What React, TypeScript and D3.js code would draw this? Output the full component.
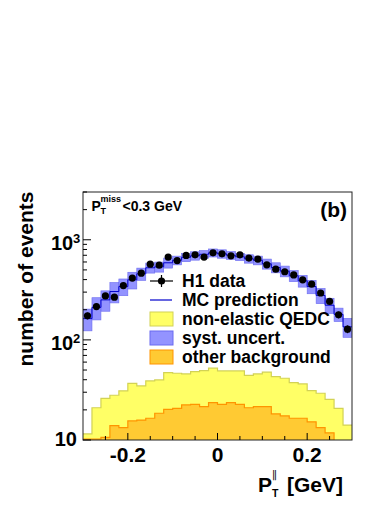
import React from "react";
import * as d3 from "d3";

const width = 392;
const height = 508;
const frame = { left: 83, right: 352, top: 192, bottom: 440 };

// P_T^parallel bins (GeV), 0.02 wide
const binCenters = [
  -0.29, -0.27, -0.25, -0.23, -0.21, -0.19, -0.17, -0.15, -0.13, -0.11,
  -0.09, -0.07, -0.05, -0.03, -0.01, 0.01, 0.03, 0.05, 0.07, 0.09,
  0.11, 0.13, 0.15, 0.17, 0.19, 0.21, 0.23, 0.25, 0.27, 0.29,
];
const binWidth = 0.02;

const h1Data = [
  174, 215, 275, 267, 349, 414, 464, 571, 558, 671,
  620, 697, 708, 671, 740, 724, 692, 708, 656, 641,
  562, 509, 479, 445, 398, 360, 294, 242, 178, 128,
];
const mcPrediction = [
  163, 211, 251, 304, 341, 398, 457, 525, 537, 589,
  624, 668, 692, 716, 741, 724, 700, 676, 646, 624,
  575, 528, 486, 437, 389, 341, 278, 222, 180, 135,
];
// relative systematic uncertainty of the MC
const systUncert = [
  0.245, 0.25, 0.23, 0.23, 0.19, 0.19, 0.14, 0.115, 0.115, 0.115,
  0.1, 0.096, 0.096, 0.089, 0.092, 0.096, 0.089, 0.084, 0.096, 0.1,
  0.115, 0.115, 0.123, 0.127, 0.135, 0.153, 0.173, 0.173, 0.153, 0.215,
];
const nonElasticQEDC = [
  11.5, 21, 26, 28, 31, 36.8, 34.7, 38.9, 39.8, 47,
  46.4, 45.7, 48.2, 49.4, 52.2, 49, 49, 49, 44.3, 45.7,
  47.6, 43, 41.4, 37.4, 36.3, 31.1, 29.3, 25.5, 20.7, 14.1,
];
const otherBackground = [
  10.2, 10.2, 10.6, 13.9, 13.3, 15.5, 15.8, 16.5, 18.5, 20.2,
  20.7, 22.4, 22.7, 21.5, 23.6, 22.7, 23.6, 22.7, 21, 21.5,
  21.5, 18.2, 17.4, 16.5, 16.5, 15.2, 13.3, 11.8, 8, 8,
];

const xTicks = [-0.2, 0, 0.2];
const xTickLabels = ["-0.2", "0", "0.2"];
const xMinorTicks = [-0.25, -0.15, -0.1, -0.05, 0.05, 0.1, 0.15, 0.25];
const yTicks = [10, 100, 1000];
const yTickExponents = ["", "2", "3"];
const legendLabels = ["H1 data", "MC prediction", "non-elastic QEDC", "syst. uncert.", "other background"];

const font = "'Liberation Sans', Arial, Helvetica, sans-serif";
const yellowFill = "#ffff66";
const yellowLine = "#d2d255";
const orangeFill = "#ffca33";
const orangeLine = "#ff9400";
const bandFill = "#8080ff";
const mcColor = "#0000cc";

const x = d3.scaleLinear().domain([-0.3, 0.3]).range([frame.left, frame.right]);
const y = d3.scaleLog().domain([10, 3000]).range([frame.bottom, frame.top]);

function stepPoints(values: number[]): [number, number][] {
  const pts: [number, number][] = [];
  values.forEach((v, i) => {
    pts.push([binCenters[i] - binWidth / 2, v]);
    pts.push([binCenters[i] + binWidth / 2, v]);
  });
  return pts;
}

const area = d3
  .area<[number, number]>()
  .x((d) => x(d[0]))
  .y0(frame.bottom + 5)
  .y1((d) => y(Math.max(d[1], 5)));
const line = d3
  .line<[number, number]>()
  .x((d) => x(d[0]))
  .y((d) => y(Math.max(d[1], 5)));

const yMinor: number[] = [];
[10, 100, 1000].forEach((dec) => {
  for (let k = 2; k <= 9; k++) if (dec * k <= 3000) yMinor.push(dec * k);
});

export default function App() {
  const legendY = (i: number) => 281 + i * 19;
  return (
    <svg
      width={width}
      height={height}
      style={{ position: "absolute", left: 0, top: 0, background: "#fff" }}
      fontFamily={font}
      fontWeight="bold"
    >
      <defs>
        <clipPath id="plot">
          <rect x={frame.left} y={frame.top} width={frame.right - frame.left} height={frame.bottom - frame.top} />
        </clipPath>
      </defs>

      <g clipPath="url(#plot)">
        <path d={area(stepPoints(nonElasticQEDC)) || ""} fill={yellowFill} />
        <path d={line(stepPoints(nonElasticQEDC)) || ""} fill="none" stroke={yellowLine} strokeWidth={1.2} />
        <path d={area(stepPoints(otherBackground)) || ""} fill={orangeFill} />
        <path d={line(stepPoints(otherBackground)) || ""} fill="none" stroke={orangeLine} strokeWidth={1.2} />

        {mcPrediction.map((v, i) => {
          const lo = v * (1 - systUncert[i]);
          const hi = v * (1 + systUncert[i]);
          return (
            <rect
              key={"b" + i}
              x={x(binCenters[i] - binWidth / 2)}
              width={x(binWidth) - x(0)}
              y={y(hi)}
              height={y(lo) - y(hi)}
              fill={bandFill}
              fillOpacity={0.85}
              stroke="#6a6af0"
              strokeWidth={0.6}
            />
          );
        })}
        <path d={line(stepPoints(mcPrediction)) || ""} fill="none" stroke={mcColor} strokeWidth={1} />

        {h1Data.map((v, i) => {
          const e = Math.sqrt(v);
          return (
            <g key={"d" + i}>
              <line x1={x(binCenters[i])} x2={x(binCenters[i])} y1={y(v + e)} y2={y(v - e)} stroke="#000" strokeWidth={1} />
              <circle cx={x(binCenters[i])} cy={y(v)} r={3.6} fill="#000" />
            </g>
          );
        })}
      </g>

      {/* frame */}
      <rect
        x={frame.left}
        y={frame.top}
        width={frame.right - frame.left}
        height={frame.bottom - frame.top}
        fill="none"
        stroke="#222"
        strokeWidth={1}
      />

      {/* x axis ticks */}
      {xTicks.map((t, i) => (
        <g key={"xt" + i}>
          <line x1={x(t)} x2={x(t)} y1={frame.bottom} y2={frame.bottom - 7} stroke="#000" />
          <text x={x(t)} y={462} textAnchor="middle" fontSize={21}>
            {xTickLabels[i]}
          </text>
        </g>
      ))}
      {xMinorTicks.map((t, i) => (
        <line key={"xm" + i} x1={x(t)} x2={x(t)} y1={frame.bottom} y2={frame.bottom - 4} stroke="#000" />
      ))}

      {/* y axis ticks */}
      {yTicks.map((t, i) => (
        <g key={"yt" + i}>
          <line x1={frame.left} x2={frame.left + 8} y1={y(t)} y2={y(t)} stroke="#000" />
          {yTickExponents[i] === "" ? (
            <text x={77} y={y(t) + 6} textAnchor="end" fontSize={20}>
              10
            </text>
          ) : (
            <text x={51} y={y(t) + 10} fontSize={20}>
              10
              <tspan x={73} y={y(t) + 3} fontSize={13}>
                {yTickExponents[i]}
              </tspan>
            </text>
          )}
        </g>
      ))}
      {yMinor.map((t, i) => (
        <line key={"ym" + i} x1={frame.left} x2={frame.left + 4} y1={y(t)} y2={y(t)} stroke="#000" />
      ))}

      {/* axis titles */}
      <text transform="translate(33,279) rotate(-90)" textAnchor="middle" fontSize={21}>
        number of events
      </text>
      <text x={258} y={491.5} fontSize={21}>
        P
        <tspan x={272} y={478} fontSize={10.5} fontFamily="'DejaVu Sans', sans-serif" fontWeight="normal">
          ∥
        </tspan>
        <tspan x={272} y={497} fontSize={10.5}>
          T
        </tspan>
        <tspan x={287} y={491.5}>
          [GeV]
        </tspan>
      </text>

      {/* cut label and panel label */}
      <text x={91.5} y={210.5} fontSize={14}>
        P
        <tspan x={100.5} y={202} fontSize={9}>
          miss
        </tspan>
        <tspan x={100.5} y={214} fontSize={9}>
          T
        </tspan>
        <tspan x={122.5} y={210.5}>
          {"<0.3 GeV"}
        </tspan>
      </text>
      <text x={347} y={217} textAnchor="end" fontSize={21}>(b)</text>

      {/* legend */}
      <g>
        <line x1={150} x2={173} y1={legendY(0)} y2={legendY(0)} stroke="#000" strokeWidth={1.2} />
        <line x1={161.5} x2={161.5} y1={legendY(0) - 6} y2={legendY(0) + 6} stroke="#000" strokeWidth={1.2} />
        <circle cx={161.5} cy={legendY(0)} r={3.6} fill="#000" />
        <line x1={150} x2={172} y1={legendY(1)} y2={legendY(1)} stroke={mcColor} strokeWidth={1.2} />
        <rect x={150} y={legendY(2) - 7} width={23} height={14} fill={yellowFill} stroke={yellowLine} />
        <rect x={150} y={legendY(3) - 7} width={23} height={14} fill={bandFill} fillOpacity={0.85} stroke="#6a6af0" />
        <rect x={150} y={legendY(4) - 7} width={23} height={14} fill={orangeFill} stroke={orangeLine} />
        {legendLabels.map((l, i) => (
          <text key={"l" + i} x={182} y={legendY(i) + 6} fontSize={17.5}>
            {l}
          </text>
        ))}
      </g>
    </svg>
  );
}
